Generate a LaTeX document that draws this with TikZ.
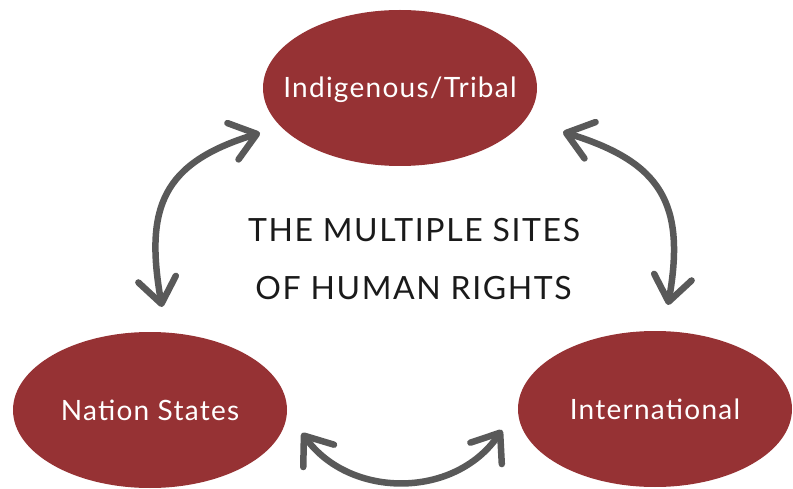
\documentclass[tikz,border=0pt]{standalone}
\usepackage{fontspec}
\setmainfont{Lato}
\newfontfamily\sitefont[LetterSpace=4.5]{Lato}
\newfontfamily\headfont[LetterSpace=5]{Lato}
\usetikzlibrary{shapes.geometric,arrows.meta,calc}
\definecolor{siteRed}{HTML}{963234}
\definecolor{arrowGray}{HTML}{595959}
\definecolor{headInk}{HTML}{1A1A1A}
\begin{document}
\begin{tikzpicture}[x=1pt,y=1pt,
  site/.style={ellipse, fill=siteRed, draw=none,
    minimum width=274pt, minimum height=156pt,
    inner ysep=0pt, inner xsep=-60pt,
    text=white, font=\sitefont\fontsize{28}{30}\selectfont,
    text height=20pt, text depth=0pt},
  barb/.tip={Straight Barb[length=25pt,width=38pt,round]},
  link/.style={draw=arrowGray, line width=6.5pt, barb-barb},
  heading/.style={font=\headfont\fontsize{32}{34}\selectfont, text=headInk,
    anchor=base, inner sep=0pt}]
\useasboundingbox (0,0) rectangle (793,488);

% the three sites
\node[site] (tribal) at (400,400) {Indigenous/Tribal};
\node[site] (nation) at (150,78) {Nation States};
\node[site] (intl) at (655,79) {International};

% central title
\node[heading] (title1) at (414,246) {THE MULTIPLE SITES};
\node[heading] (title2) at (413.5,189) {OF HUMAN RIGHTS};

% arrow end points beside each site
\coordinate (a1) at ($(tribal.center)+(-140,-45)$);
\coordinate (a2) at ($(nation.center)+(12,103)$);
\coordinate (b1) at ($(tribal.center)+(163,-44)$);
\coordinate (b2) at ($(intl.center)+(13,104)$);
\coordinate (c1) at ($(nation.center)+(152,-23)$);
\coordinate (c2) at ($(intl.center)+(-153,-21)$);

% two-way links between the sites
\draw[link] (a1) to[out=197,in=100,looseness=1.3] (a2);
\draw[link] (b1) to[out=-17,in=80,looseness=1.3] (b2);
\draw[link] (c1) .. controls +(48,-66) and +(-47,-69) .. (c2);
\end{tikzpicture}
\end{document}
